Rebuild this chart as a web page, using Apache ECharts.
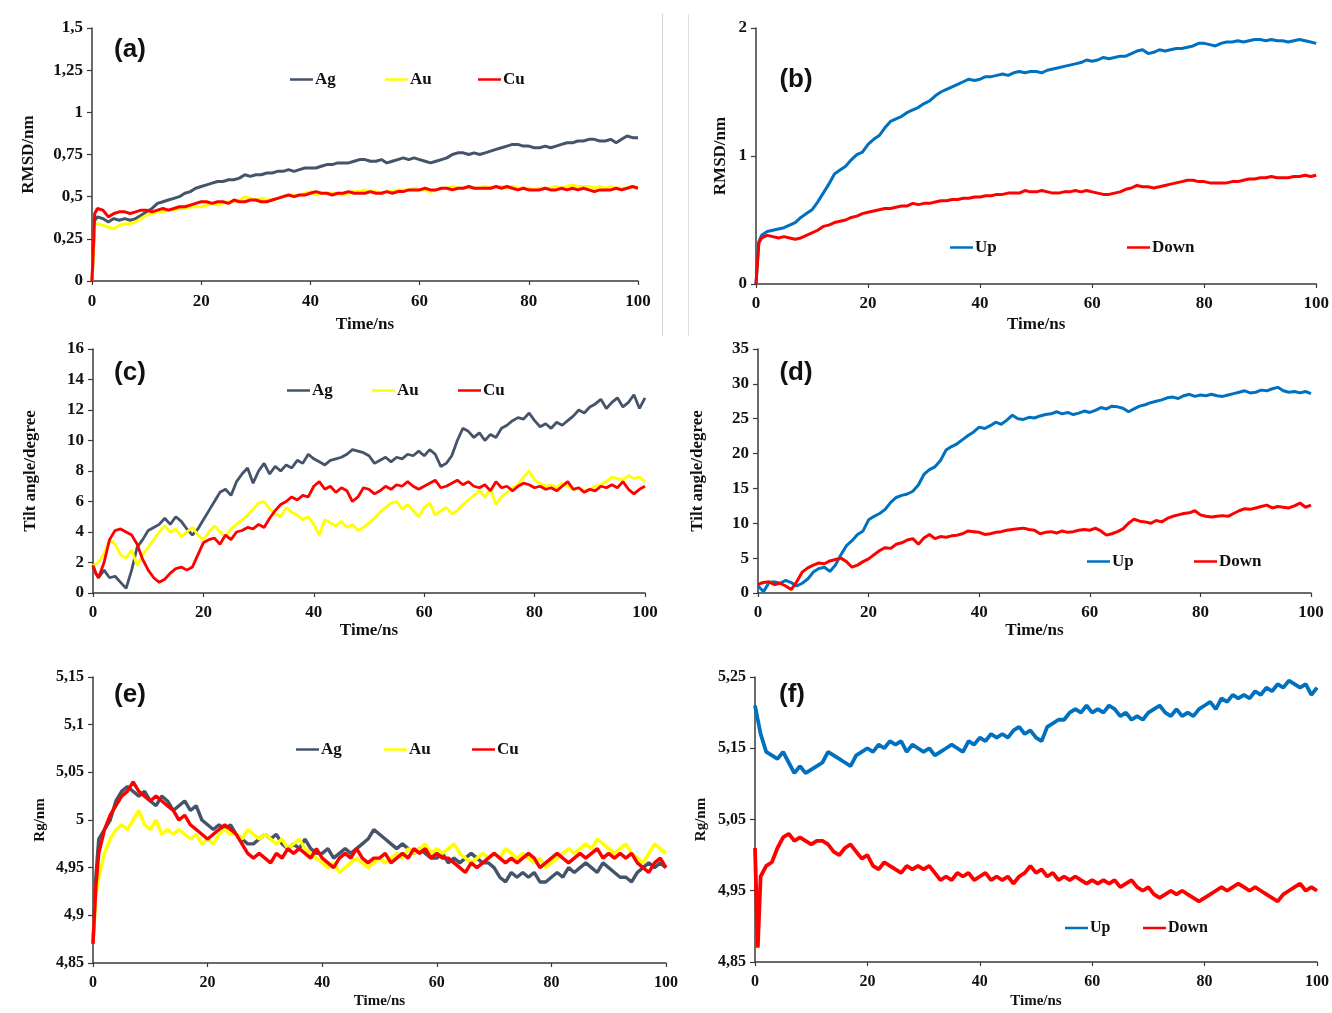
<!DOCTYPE html>
<html>
<head>
<meta charset="utf-8">
<script src="https://cdn.jsdelivr.net/npm/echarts@6/dist/echarts.min.js"></script>
<style>
html,body{margin:0;padding:0;background:#fff;}
#chart{width:1332px;height:1013px;}
</style>
</head>
<body>
<div id="chart"></div>
<script>
// Shared time axis (ns)
var T = [0,0.5,
1,2,3,4,5,6,7,8,9,10,
11,12,13,14,15,16,17,18,19,20,
21,22,23,24,25,26,27,28,29,30,
31,32,33,34,35,36,37,38,39,40,
41,42,43,44,45,46,47,48,49,50,
51,52,53,54,55,56,57,58,59,60,
61,62,63,64,65,66,67,68,69,70,
71,72,73,74,75,76,77,78,79,80,
81,82,83,84,85,86,87,88,89,90,
91,92,93,94,95,96,97,98,99,100];

var xTicks = [0,20,40,60,80,100];

// (a) RMSD/nm
var aAg = [0,0.36,
0.38,0.37,0.35,0.37,0.36,0.37,0.36,0.37,0.39,0.41,
0.43,0.46,0.47,0.48,0.49,0.50,0.52,0.53,0.55,0.56,
0.57,0.58,0.59,0.59,0.60,0.60,0.61,0.63,0.62,0.63,
0.63,0.64,0.64,0.65,0.65,0.66,0.65,0.66,0.67,0.67,
0.67,0.68,0.69,0.69,0.70,0.70,0.70,0.71,0.72,0.72,
0.71,0.71,0.72,0.70,0.71,0.72,0.73,0.72,0.73,0.72,
0.71,0.70,0.71,0.72,0.73,0.75,0.76,0.76,0.75,0.76,
0.75,0.76,0.77,0.78,0.79,0.80,0.81,0.81,0.80,0.80,
0.79,0.79,0.80,0.79,0.80,0.81,0.82,0.82,0.83,0.83,
0.84,0.84,0.83,0.83,0.84,0.82,0.84,0.86,0.85,0.85];
var aAu = [0,0.33,
0.34,0.33,0.32,0.31,0.33,0.34,0.34,0.35,0.37,0.39,
0.40,0.41,0.41,0.42,0.42,0.43,0.43,0.44,0.44,0.44,
0.45,0.46,0.45,0.46,0.47,0.47,0.48,0.50,0.49,0.48,
0.49,0.48,0.48,0.49,0.50,0.51,0.51,0.51,0.52,0.53,
0.51,0.52,0.52,0.52,0.52,0.51,0.52,0.53,0.53,0.54,
0.53,0.53,0.52,0.53,0.53,0.54,0.54,0.54,0.55,0.54,
0.54,0.53,0.54,0.55,0.55,0.56,0.55,0.55,0.56,0.55,
0.55,0.56,0.55,0.56,0.56,0.55,0.56,0.55,0.55,0.55,
0.54,0.55,0.55,0.55,0.56,0.55,0.56,0.57,0.56,0.56,
0.56,0.55,0.56,0.55,0.56,0.55,0.55,0.55,0.56,0.55];
var aCu = [0,0.40,
0.43,0.42,0.38,0.40,0.41,0.41,0.40,0.41,0.42,0.42,
0.41,0.42,0.43,0.42,0.43,0.44,0.44,0.45,0.46,0.47,
0.47,0.46,0.47,0.47,0.46,0.48,0.47,0.47,0.48,0.48,
0.47,0.47,0.48,0.49,0.50,0.51,0.50,0.51,0.51,0.52,
0.53,0.52,0.52,0.51,0.52,0.52,0.53,0.52,0.52,0.52,
0.53,0.52,0.52,0.53,0.52,0.53,0.53,0.54,0.54,0.54,
0.55,0.54,0.54,0.55,0.55,0.54,0.55,0.55,0.56,0.55,
0.55,0.55,0.55,0.56,0.55,0.56,0.55,0.54,0.55,0.54,
0.54,0.54,0.55,0.54,0.54,0.55,0.54,0.55,0.54,0.55,
0.54,0.53,0.54,0.54,0.54,0.55,0.54,0.55,0.56,0.55];

// (b) RMSD/nm
var bUp = [0,0.33,
0.38,0.41,0.42,0.43,0.44,0.46,0.48,0.52,0.55,0.58,
0.64,0.71,0.78,0.86,0.89,0.92,0.97,1.01,1.03,1.09,
1.13,1.16,1.22,1.27,1.29,1.31,1.34,1.36,1.38,1.41,
1.43,1.47,1.50,1.52,1.54,1.56,1.58,1.60,1.59,1.60,
1.62,1.62,1.63,1.64,1.63,1.65,1.66,1.65,1.66,1.66,
1.65,1.67,1.68,1.69,1.70,1.71,1.72,1.73,1.75,1.74,
1.75,1.77,1.76,1.77,1.78,1.78,1.80,1.82,1.83,1.80,
1.81,1.83,1.82,1.83,1.84,1.84,1.85,1.86,1.88,1.88,
1.87,1.86,1.88,1.89,1.89,1.90,1.89,1.90,1.91,1.91,
1.90,1.91,1.90,1.90,1.89,1.90,1.91,1.90,1.89,1.88];
var bDown = [0,0.32,
0.36,0.38,0.37,0.36,0.37,0.36,0.35,0.36,0.38,0.40,
0.42,0.45,0.46,0.48,0.49,0.50,0.52,0.53,0.55,0.56,
0.57,0.58,0.59,0.59,0.60,0.61,0.61,0.63,0.62,0.63,
0.63,0.64,0.65,0.65,0.66,0.66,0.67,0.67,0.68,0.68,
0.69,0.69,0.70,0.70,0.71,0.71,0.71,0.73,0.72,0.72,
0.73,0.72,0.71,0.71,0.72,0.72,0.73,0.72,0.73,0.72,
0.71,0.70,0.70,0.71,0.72,0.74,0.75,0.77,0.76,0.76,
0.75,0.76,0.77,0.78,0.79,0.80,0.81,0.81,0.80,0.80,
0.79,0.79,0.79,0.79,0.80,0.80,0.81,0.82,0.82,0.83,
0.83,0.84,0.83,0.83,0.83,0.84,0.84,0.85,0.84,0.85];

// (c) Tilt angle/degree
var cAg = [1.8,1.3,
1.0,1.5,1.0,1.1,0.7,0.3,1.5,3.0,3.5,4.1,
4.3,4.5,4.9,4.5,5.0,4.7,4.2,3.8,4.2,4.8,
5.4,6.0,6.6,6.8,6.4,7.3,7.8,8.2,7.2,8.0,
8.5,7.8,8.3,8.0,8.4,8.2,8.7,8.5,9.1,8.8,
8.6,8.4,8.7,8.8,8.9,9.1,9.4,9.3,9.2,9.0,
8.5,8.7,8.9,8.6,8.9,8.8,9.1,9.0,9.3,9.0,
9.4,9.1,8.3,8.5,9.0,10.0,10.8,10.6,10.2,10.5,
10.0,10.4,10.2,10.8,11.0,11.3,11.5,11.4,11.8,11.3,
10.9,11.1,10.8,11.2,11.0,11.3,11.6,12.0,11.8,12.2,
12.4,12.7,12.1,12.5,12.8,12.2,12.5,13.0,12.1,12.8];
var cAu = [1.8,1.9,
2.0,2.6,3.5,3.2,2.5,2.3,2.8,1.8,2.5,3.0,
3.5,4.0,4.4,4.0,4.2,3.7,4.0,4.3,3.8,3.5,
4.0,4.4,4.0,3.7,4.2,4.5,4.8,5.1,5.5,5.9,
6.0,5.5,5.2,5.0,5.6,5.3,5.1,4.8,5.0,4.5,
3.8,4.8,4.6,4.4,4.7,4.3,4.5,4.1,4.3,4.6,
4.9,5.3,5.6,5.9,6.0,5.5,5.8,5.4,5.0,5.6,
5.9,5.1,5.4,5.6,5.2,5.4,5.8,6.1,6.4,6.7,
6.3,6.8,5.8,6.3,6.6,6.9,7.1,7.6,8.0,7.4,
7.2,7.0,7.1,6.9,7.2,7.0,6.8,6.9,6.7,6.8,
7.0,7.1,7.3,7.6,7.5,7.4,7.7,7.5,7.6,7.3];
var cCu = [1.8,1.3,
1.0,2.0,3.5,4.1,4.2,4.0,3.8,3.2,2.2,1.5,
1.0,0.7,0.9,1.3,1.6,1.7,1.5,1.7,2.5,3.3,
3.5,3.6,3.2,3.8,3.5,4.0,4.1,4.3,4.2,4.5,
4.3,4.9,5.4,5.8,6.0,6.3,6.1,6.4,6.3,7.0,
7.3,6.8,7.0,6.6,6.9,6.7,6.0,6.3,6.9,6.8,
6.5,6.7,7.0,6.8,7.1,7.0,7.3,7.0,6.8,7.0,
7.2,7.4,6.9,7.0,7.2,7.4,7.1,7.3,7.0,6.9,
7.1,6.7,7.3,6.9,7.0,6.7,7.0,7.2,7.1,6.9,
7.0,6.8,6.9,6.7,7.0,7.3,6.8,6.9,6.6,6.8,
6.7,7.0,6.9,7.1,6.9,7.3,6.8,6.5,6.8,7.0];

// (d) Tilt angle/degree
var dUp = [1.0,0.6,
0.2,1.5,1.6,1.4,1.8,1.5,1.0,1.4,2.0,3.0,
3.5,3.7,3.1,4.0,5.5,6.8,7.5,8.4,8.9,10.5,
11.0,11.4,12.0,13.0,13.7,14.0,14.2,14.6,15.5,17.0,
17.7,18.1,19.0,20.5,21.0,21.4,22.0,22.6,23.1,23.8,
23.6,24.0,24.5,24.2,24.8,25.5,25.0,24.9,25.2,25.1,
25.4,25.6,25.7,26.0,25.7,25.9,25.6,25.8,26.1,25.9,
26.2,26.6,26.4,26.8,26.7,26.5,26.0,26.4,26.8,27.0,
27.3,27.5,27.7,28.0,28.1,27.9,28.3,28.5,28.2,28.4,
28.3,28.5,28.3,28.2,28.4,28.6,28.8,29.0,28.7,28.8,
29.1,29.0,29.3,29.5,29.0,28.8,28.9,28.7,28.9,28.6];
var dDown = [1.2,1.4,
1.5,1.6,1.2,1.4,1.0,0.5,1.6,3.0,3.6,4.0,
4.3,4.2,4.6,4.8,5.0,4.5,3.7,4.0,4.5,4.9,
5.5,6.1,6.5,6.4,7.0,7.2,7.6,7.8,7.0,7.9,
8.4,7.8,8.1,8.0,8.2,8.3,8.5,8.9,8.8,8.7,
8.4,8.5,8.7,8.8,9.0,9.1,9.2,9.3,9.1,9.0,
8.5,8.7,8.8,8.6,8.9,8.7,8.8,9.0,9.1,9.0,
9.3,8.9,8.3,8.5,8.8,9.2,10.0,10.6,10.3,10.2,
10.0,10.4,10.2,10.7,11.0,11.2,11.4,11.5,11.8,11.2,
11.0,10.9,11.0,11.1,11.0,11.4,11.8,12.1,12.0,12.2,
12.4,12.6,12.2,12.4,12.3,12.2,12.5,12.9,12.3,12.6];

// (e) Rg/nm
var eAg = [4.87,4.94,
4.98,4.99,5.0,5.02,5.03,5.035,5.03,5.025,5.03,5.02,
5.015,5.025,5.02,5.01,5.015,5.02,5.01,5.015,5.0,4.995,
4.99,4.995,4.99,4.995,4.985,4.98,4.975,4.975,4.98,4.985,
4.98,4.985,4.975,4.97,4.975,4.97,4.98,4.97,4.965,4.965,
4.97,4.96,4.965,4.97,4.965,4.97,4.975,4.98,4.99,4.985,
4.98,4.975,4.97,4.975,4.97,4.965,4.97,4.965,4.96,4.96,
4.965,4.955,4.96,4.955,4.96,4.965,4.96,4.955,4.955,4.95,
4.94,4.935,4.945,4.94,4.945,4.94,4.945,4.935,4.935,4.94,
4.945,4.94,4.95,4.945,4.95,4.955,4.95,4.945,4.955,4.95,
4.945,4.94,4.94,4.935,4.945,4.95,4.955,4.95,4.955,4.95];
var eAu = [4.87,4.92,
4.94,4.965,4.98,4.99,4.995,4.99,5.0,5.01,4.995,4.99,
5.0,4.985,4.99,4.985,4.99,4.985,4.98,4.985,4.975,4.98,
4.975,4.985,4.99,4.985,4.985,4.98,4.99,4.985,4.98,4.985,
4.98,4.975,4.98,4.97,4.975,4.98,4.97,4.965,4.96,4.955,
4.95,4.955,4.945,4.95,4.955,4.96,4.955,4.95,4.955,4.96,
4.955,4.96,4.965,4.96,4.97,4.965,4.97,4.975,4.965,4.97,
4.965,4.97,4.975,4.965,4.96,4.955,4.96,4.965,4.96,4.965,
4.96,4.97,4.965,4.96,4.965,4.96,4.955,4.96,4.95,4.955,
4.96,4.965,4.97,4.965,4.97,4.975,4.97,4.98,4.975,4.97,
4.965,4.97,4.975,4.965,4.96,4.955,4.965,4.975,4.97,4.965];
var eCu = [4.87,4.93,
4.965,4.99,5.005,5.015,5.025,5.03,5.04,5.03,5.025,5.02,
5.025,5.02,5.015,5.01,5.0,5.005,4.995,4.99,4.985,4.98,
4.985,4.99,4.995,4.99,4.985,4.975,4.965,4.96,4.965,4.96,
4.955,4.965,4.96,4.97,4.965,4.97,4.965,4.96,4.97,4.96,
4.955,4.95,4.96,4.965,4.96,4.97,4.96,4.955,4.96,4.96,
4.965,4.955,4.96,4.965,4.96,4.97,4.965,4.97,4.96,4.965,
4.96,4.96,4.955,4.95,4.945,4.955,4.95,4.955,4.96,4.965,
4.96,4.955,4.96,4.955,4.96,4.965,4.96,4.95,4.955,4.96,
4.965,4.96,4.955,4.96,4.965,4.96,4.965,4.97,4.96,4.965,
4.96,4.965,4.96,4.965,4.955,4.95,4.945,4.955,4.96,4.95];

// (f) Rg/nm
var fUp = [5.21,5.19,
5.17,5.145,5.14,5.135,5.145,5.13,5.115,5.125,5.115,5.12,
5.125,5.13,5.145,5.14,5.135,5.13,5.125,5.14,5.145,5.15,
5.145,5.155,5.15,5.16,5.155,5.16,5.145,5.155,5.15,5.145,
5.15,5.14,5.145,5.15,5.155,5.15,5.145,5.16,5.155,5.165,
5.16,5.17,5.165,5.17,5.165,5.175,5.18,5.17,5.175,5.165,
5.16,5.18,5.185,5.19,5.19,5.2,5.205,5.2,5.21,5.2,
5.205,5.2,5.21,5.205,5.195,5.2,5.19,5.195,5.19,5.2,
5.205,5.21,5.2,5.195,5.205,5.195,5.2,5.195,5.205,5.21,
5.215,5.205,5.22,5.215,5.225,5.22,5.225,5.22,5.23,5.225,
5.235,5.23,5.24,5.235,5.245,5.24,5.235,5.24,5.225,5.235];
var fDown = [5.01,4.87,
4.97,4.985,4.99,5.01,5.025,5.03,5.02,5.025,5.02,5.015,
5.02,5.02,5.015,5.005,5.0,5.01,5.015,5.005,4.995,5.0,
4.985,4.98,4.99,4.985,4.98,4.975,4.985,4.98,4.985,4.98,
4.985,4.975,4.965,4.97,4.965,4.975,4.97,4.975,4.965,4.97,
4.975,4.965,4.97,4.965,4.97,4.96,4.97,4.975,4.985,4.975,
4.98,4.97,4.975,4.965,4.97,4.965,4.97,4.965,4.96,4.965,
4.96,4.965,4.96,4.965,4.955,4.96,4.965,4.955,4.95,4.955,
4.945,4.94,4.945,4.95,4.945,4.95,4.945,4.94,4.935,4.94,
4.945,4.95,4.955,4.95,4.955,4.96,4.955,4.95,4.955,4.95,
4.945,4.94,4.935,4.945,4.95,4.955,4.96,4.95,4.955,4.95];

// y-axis tick settings per panel
var yA = {min:0, max:1.5, interval:0.25};
var yB = {min:0, max:2, interval:1};
var yC = {min:0, max:16, interval:2};
var yD = {min:0, max:35, interval:5};
var yE = {min:4.85, max:5.15, interval:0.05};
var yF = {min:4.85, max:5.25, interval:0.1};

var COL = {Ag:'#44546A', Au:'#FFFF00', Cu:'#FF0000', Up:'#0070C0', Down:'#FF0000'};

var SERIF = '"Liberation Serif","Times New Roman",serif';
var SANS = '"Liberation Sans",Arial,sans-serif';

function fmt(v){
  var s = String(Math.round(v*1000)/1000);
  return s.replace('.', ',');
}

var grids = [
  {left:92, top:28, width:546, height:253},
  {left:756, top:28, width:562, height:256},
  {left:93, top:349, width:552, height:244},
  {left:758, top:349, width:553, height:244},
  {left:93, top:677, width:573, height:286},
  {left:755, top:677, width:562, height:285}
];

var panels = [
  {y:yA, yname:'RMSD/nm', ygap:55, xgap:35, fs:17, nfs:17, lm:12, lw:3},
  {y:yB, yname:'RMSD/nm', ygap:27, xgap:32, fs:17, nfs:17, lm:11, lw:3},
  {y:yC, yname:'Tilt angle/degree', ygap:54, xgap:24, fs:17, nfs:17, lm:11, lw:2.8},
  {y:yD, yname:'Tilt angle/degree', ygap:52, xgap:24, fs:17, nfs:17, lm:11, lw:3},
  {y:yE, yname:'Rg/nm', ygap:45, xgap:31, fs:16, nfs:15, lm:12, lw:3.4},
  {y:yF, yname:'Rg/nm', ygap:46, xgap:32, fs:16, nfs:15, lm:12, lw:3.8}
];

var xAxes = [], yAxes = [];
panels.forEach(function(p, i){
  xAxes.push({
    type:'value', gridIndex:i, min:0, max:100, interval:20,
    name:'Time/ns', nameLocation:'middle', nameGap:p.xgap,
    nameTextStyle:{fontFamily:SERIF, fontWeight:'bold', fontSize:p.nfs, color:'#111'},
    axisLine:{show:true, onZero:false, lineStyle:{color:'#3a3a3a', width:1.5}},
    axisTick:{show:true, length:4, lineStyle:{color:'#3a3a3a', width:1.2}},
    axisLabel:{fontFamily:SERIF, fontWeight:'bold', fontSize:p.fs, color:'#111', margin:p.lm},
    splitLine:{show:false}
  });
  yAxes.push({
    type:'value', gridIndex:i, min:p.y.min, max:p.y.max, interval:p.y.interval,
    name:p.yname, nameLocation:'middle', nameGap:p.ygap, nameRotate:90,
    nameTextStyle:{fontFamily:SERIF, fontWeight:'bold', fontSize:p.nfs, color:'#111'},
    axisLine:{show:true, lineStyle:{color:'#3a3a3a', width:1.5}},
    axisTick:{show:true, length:5, lineStyle:{color:'#3a3a3a', width:1.2}},
    axisLabel:{fontFamily:SERIF, fontWeight:'bold', fontSize:p.fs, color:'#111', margin:9, formatter:fmt},
    splitLine:{show:false}
  });
});

function mk(name, arr, gi){
  return {
    name:name, type:'line', xAxisIndex:gi, yAxisIndex:gi,
    data:T.map(function(t,k){return [t, arr[k]];}),
    showSymbol:false, symbol:'none', animation:false,
    lineStyle:{color:COL[name], width:panels[gi].lw},
    itemStyle:{color:COL[name]},
    z:2
  };
}

var series = [
  mk('Ag', aAg, 0), mk('Au', aAu, 0), mk('Cu', aCu, 0),
  mk('Up', bUp, 1), mk('Down', bDown, 1),
  mk('Ag', cAg, 2), mk('Au', cAu, 2), mk('Cu', cCu, 2),
  mk('Up', dUp, 3), mk('Down', dDown, 3),
  mk('Ag', eAg, 4), mk('Au', eAu, 4), mk('Cu', eCu, 4),
  mk('Up', fUp, 5), mk('Down', fDown, 5)
];

// legend entries: [name, left, centerY, fontSize]
var legendItems = [
  ['Ag',290,81,17],['Au',385,81,17],['Cu',478,81,17],
  ['Up',950,249,17],['Down',1127,249,17],
  ['Ag',287,392,17],['Au',372,392,17],['Cu',458,392,17],
  ['Up',1087,563,17],['Down',1194,563,17],
  ['Ag',296,751,17],['Au',384,751,17],['Cu',472,751,17],
  ['Up',1065,930,16],['Down',1143,930,16]
];
var legends = legendItems.map(function(it){
  return {
    data:[it[0]], left:it[1], top:it[2]-10, orient:'horizontal',
    icon:'rect', itemWidth:23, itemHeight:2.5, itemGap:0,
    selectedMode:false, padding:0,
    textStyle:{fontFamily:SERIF, fontWeight:'bold', fontSize:it[3], color:'#111', padding:[0,0,0,-3]}
  };
});

var labels = [['(a)',130,50],['(b)',796,80],['(c)',130,373],['(d)',796,373],['(e)',130,695],['(f)',792,695]];
var graphics = labels.map(function(l){
  return {type:'text', x:l[1], y:l[2], style:{text:l[0], fill:'#111', font:'bold 26px '+SANS, textAlign:'center', textVerticalAlign:'middle'}};
});
graphics.push({type:'line', shape:{x1:662.5,y1:14,x2:662.5,y2:336}, style:{stroke:'#d0d0d0', lineWidth:1}});
graphics.push({type:'line', shape:{x1:688.5,y1:14,x2:688.5,y2:336}, style:{stroke:'#e0e0e0', lineWidth:1}});

var chart = echarts.init(document.getElementById('chart'), null, {renderer:'canvas'});
chart.setOption({
  backgroundColor:'#ffffff',
  animation:false,
  grid:grids,
  xAxis:xAxes,
  yAxis:yAxes,
  legend:legends,
  series:series,
  graphic:graphics
});
</script>
</body>
</html>
